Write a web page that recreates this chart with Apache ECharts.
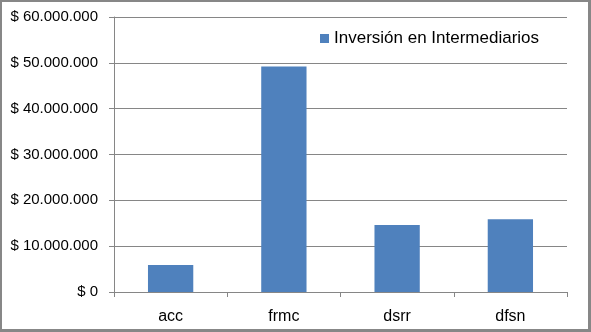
<!DOCTYPE html>
<html><head><meta charset="utf-8">
<script src="https://cdn.jsdelivr.net/npm/echarts@6/dist/echarts.min.js"></script>
<style>
html,body{margin:0;padding:0;background:#fff;}
#c{width:591px;height:332px;position:absolute;left:0;top:0;}
#f{position:absolute;left:0;top:0;width:591px;height:332px;box-sizing:border-box;border:3px solid #878787;border-left-width:2px;border-top-width:2px;pointer-events:none;}
</style></head>
<body>
<div id="c"></div><div id="f"></div>
<script>
const categories = ['acc', 'frmc', 'dsrr', 'dfsn'];
const seriesName = 'Inversión en Intermediarios';
const values = [5900000, 49200000, 14600000, 15900000];
const yTicks = [0, 10000000, 20000000, 30000000, 40000000, 50000000, 60000000];

function fmt(v){
  if (v === 0) return '$ 0';
  return '$ ' + String(v).replace(/\B(?=(\d{3})+(?!\d))/g, '.');
}
const chart = echarts.init(document.getElementById('c'), null, {renderer:'canvas'});
const font = 'Liberation Sans';
chart.setOption({
  animation:false,
  backgroundColor:'#fff',
  grid:{left:114, right:24, top:17, bottom:40, containLabel:false},
  legend:{
    data:[seriesName], left:320, top:30, itemWidth:9, itemHeight:9, itemGap:6, padding:0,
    icon:'rect',
    textStyle:{fontFamily:font, fontSize:17, color:'#000', padding:[0,0,0,0]}
  },
  xAxis:{
    type:'category', data:categories,
    axisLine:{lineStyle:{color:'#868686', width:1}},
    axisTick:{show:true, length:5, lineStyle:{color:'#868686'}, alignWithLabel:false},
    axisLabel:{fontFamily:font, fontSize:16, color:'#000', margin:17}
  },
  yAxis:{
    type:'value', min:yTicks[0], max:yTicks[yTicks.length-1], interval:10000000,
    axisLine:{show:true, lineStyle:{color:'#868686'}},
    axisTick:{show:true, length:5, lineStyle:{color:'#868686'}},
    splitLine:{lineStyle:{color:'#868686', width:1}},
    axisLabel:{fontFamily:font, fontSize:15, color:'#000', margin:16, formatter:fmt}
  },
  series:[{
    name:seriesName, type:'bar', data:values,
    barWidth:'40%',
    itemStyle:{color:'#4F81BD'}
  }]
});
</script>
</body></html>
